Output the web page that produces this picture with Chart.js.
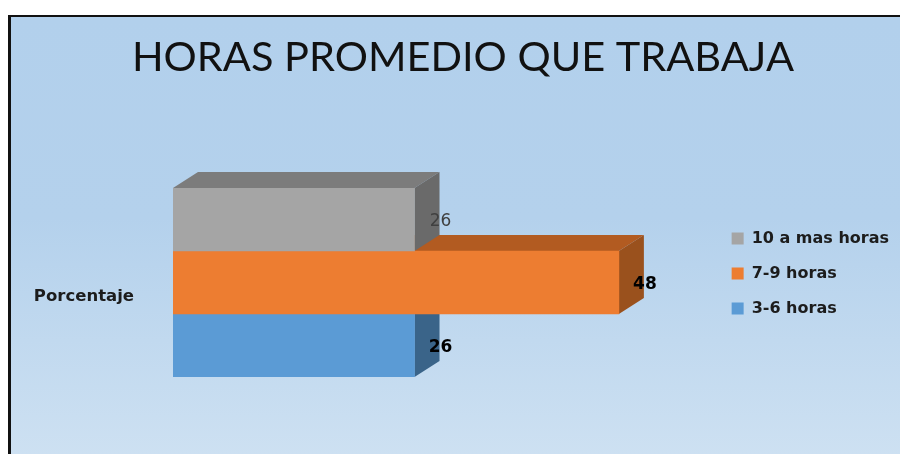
<!DOCTYPE html>
<html>
<head>
<meta charset="utf-8">
<title>Horas promedio que trabaja</title>
<script src="https://cdn.jsdelivr.net/npm/chart.js@4/dist/chart.umd.min.js"></script>
<style>
  html, body { margin: 0; padding: 0; width: 900px; height: 454px; overflow: hidden; background: #fff; }
  #panel {
    position: absolute; left: 8px; top: 15px; width: 900px; height: 450px;
    border: 2px solid #111; border-left-width: 3px; box-sizing: border-box;
    background: linear-gradient(#b2d0ec 0%, #b4d1ec 45%, #cee1f2 100%);
  }
  #chart { position: absolute; left: 0; top: 0; }
</style>
</head>
<body>
<div id="panel"></div>
<canvas id="chart" width="926" height="454"></canvas>
<script>
const chartTitle = "HORAS PROMEDIO QUE TRABAJA";
const categories = ["Porcentaje"];
const seriesNames = ["10 a mas horas", "7-9 horas", "3-6 horas"];
const seriesValues = [[26], [48], [26]];

const frontColors = ["#a5a5a5", "#ed7d31", "#5b9bd5"];
const topColors = ["#7c7c7c", "#b25b21", "#44729c"];
const sideColors = ["#6a6a6a", "#9a511d", "#3a6489"];
const labelFonts = ["400 17px 'DejaVu Sans'", "700 17px 'DejaVu Sans'", "700 17px 'DejaVu Sans'"];
const labelColors = ["#404040", "#000", "#000"];

const depthX = 25;
const depthY = 16;
const legendShiftX = -27;
const legendShiftY = -9;

function face(ctx, points, color) {
  ctx.fillStyle = color;
  ctx.beginPath();
  points.forEach(([x, y], i) => (i ? ctx.lineTo(x, y) : ctx.moveTo(x, y)));
  ctx.closePath();
  ctx.fill();
}

// Excel style 3D faces behind each bar, lowest bar first
const depthFaces = {
  id: "depthFaces",
  afterLayout(chart) {
    // legend sits a little up and left of where the layout puts it
    chart.legend.left += legendShiftX;
    chart.legend.right += legendShiftX;
    chart.legend.top += legendShiftY;
    chart.legend.bottom += legendShiftY;
  },
  beforeDatasetsDraw(chart) {
    const { ctx } = chart;
    for (let i = seriesValues.length - 1; i >= 0; i--) {
      const bar = chart.getDatasetMeta(i).data[0];
      const top = bar.y - bar.height / 2;
      const bottom = bar.y + bar.height / 2;
      face(ctx, [[bar.base, top], [bar.base + depthX, top - depthY], [bar.x + depthX, top - depthY], [bar.x, top]], topColors[i]);
      face(ctx, [[bar.x, top], [bar.x + depthX, top - depthY], [bar.x + depthX, bottom - depthY], [bar.x, bottom]], sideColors[i]);
    }
  },
  afterDatasetsDraw(chart) {
    const { ctx } = chart;
    ctx.textAlign = "center";
    ctx.textBaseline = "middle";
    seriesValues.forEach((values, i) => {
      const bar = chart.getDatasetMeta(i).data[0];
      ctx.font = labelFonts[i];
      ctx.fillStyle = labelColors[i];
      ctx.fillText(values[0], bar.x + depthX + 1, bar.y + 2);
    });
  },
};

new Chart(document.getElementById("chart"), {
  type: "bar",
  data: {
    labels: categories,
    datasets: seriesNames.map((name, i) => ({
      label: name,
      data: seriesValues[i],
      backgroundColor: frontColors[i],
      borderWidth: 0,
      barPercentage: 1,
      categoryPercentage: 1,
    })),
  },
  options: {
    indexAxis: "y",
    responsive: false,
    animation: false,
    layout: { padding: { bottom: 77 } },
    plugins: {
      tooltip: { enabled: false },
      title: {
        display: true,
        text: chartTitle,
        color: "#111",
        font: { family: "Lato", size: 41.5, weight: "400" },
        padding: { top: 33, bottom: 86.2 },
      },
      legend: {
        position: "right",
        fullSize: false,
        labels: {
          boxWidth: 12,
          boxHeight: 12,
          padding: 19,
          color: "#1c1c1c",
          font: { family: "DejaVu Sans", size: 16, weight: "700" },
        },
      },
    },
    scales: {
      x: {
        position: "top",
        min: 0,
        max: 61,
        grid: { display: false },
        border: { display: false },
        ticks: { display: false },
        afterFit(scale) { scale.height = 19; },
      },
      y: {
        grid: { display: false, drawTicks: false },
        border: { display: false },
        ticks: {
          padding: 39,
          labelOffset: 14,
          color: "#1c1c1c",
          font: { family: "DejaVu Sans", size: 16.5, weight: "700" },
        },
        afterFit(scale) { scale.width = 173; },
      },
    },
  },
  plugins: [depthFaces],
});
</script>
</body>
</html>
